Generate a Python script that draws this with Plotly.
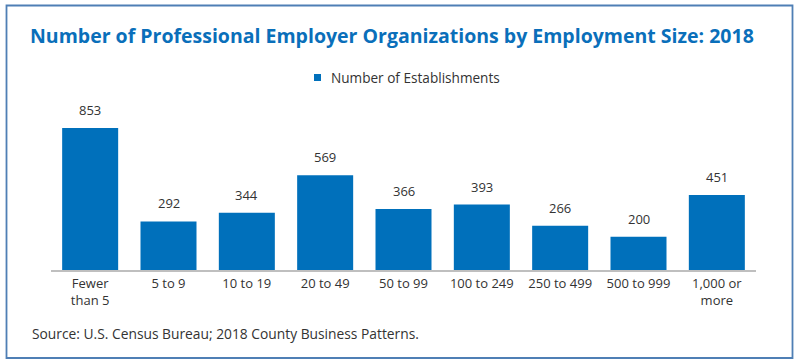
import plotly.graph_objects as go

categories = ["Fewer<br>than 5", "5 to 9", "10 to 19", "20 to 49", "50 to 99",
              "100 to 249", "250 to 499", "500 to 999", "1,000 or<br>more"]
establishments = [853, 292, 344, 569, 366, 393, 266, 200, 451]
series_name = "Number of Establishments"

W, H = 800, 363
L, R, T, B = 51, 44, 100, 93
pw, ph = W - L - R, H - T - B

def px(x):
    return (x - L) / pw

def py(y):
    return (H - B - y) / ph

blue = "#0070bb"
font = "Open Sans"

fig = go.Figure()
fig.add_trace(go.Bar(
    x=categories, y=establishments, name=series_name,
    marker=dict(color=blue, line=dict(width=0)),
    cliponaxis=False, width=0.715, showlegend=False,
))

# value labels above bars
for c, v in zip(categories, establishments):
    fig.add_annotation(x=c, y=v, text=str(v), xref="x", yref="y",
                       yanchor="bottom", yshift=7, showarrow=False,
                       font=dict(family=font, size=13, color="#333333"))

fig.update_layout(
    width=W, height=H,
    margin=dict(l=L, r=R, t=T, b=B),
    paper_bgcolor="white", plot_bgcolor="white",
    font=dict(family=font, size=13, color="#333333"),
    showlegend=False,
    xaxis=dict(showline=True, linecolor="#bfbfbf", linewidth=2, ticks="",
               tickfont=dict(family=font, size=13, color="#333333"),
               showgrid=False),
    yaxis=dict(range=[0, 170 / 0.1665], visible=False, showgrid=False),
)

# legend (manual, to match compact swatch spacing)
fig.add_shape(type="rect", xref="paper", yref="paper",
              x0=px(314), x1=px(321), y0=py(81), y1=py(74),
              line=dict(width=0), fillcolor=blue)
fig.add_annotation(text=series_name, xref="paper", yref="paper", x=px(329), y=py(77.5),
                   xanchor="left", yanchor="middle", showarrow=False,
                   font=dict(family=font, size=13.6, color="#333333"))

fig.add_annotation(text="<b>Number of Professional Employer Organizations by Employment Size: 2018</b>",
                   xref="paper", yref="paper", x=px(392), y=py(35),
                   xanchor="center", yanchor="middle", showarrow=False,
                   font=dict(family=font, size=19.5, color="#0a6fba"))
fig.add_annotation(text="Source: U.S. Census Bureau; 2018 County Business Patterns.",
                   xref="paper", yref="paper", x=px(30), y=py(333),
                   xanchor="left", yanchor="middle", showarrow=False,
                   font=dict(family=font, size=13.8, color="#333333"))
fig.add_shape(type="rect", xref="paper", yref="paper",
              x0=px(6.5), x1=px(792.5), y0=py(358), y1=py(5.5),
              line=dict(color="#4f7fb5", width=1.8), fillcolor="rgba(0,0,0,0)", layer="below")

fig.write_html("out.html", config={"displayModeBar": False},
               post_script="document.body.style.margin='0';document.body.style.overflow='hidden';")
